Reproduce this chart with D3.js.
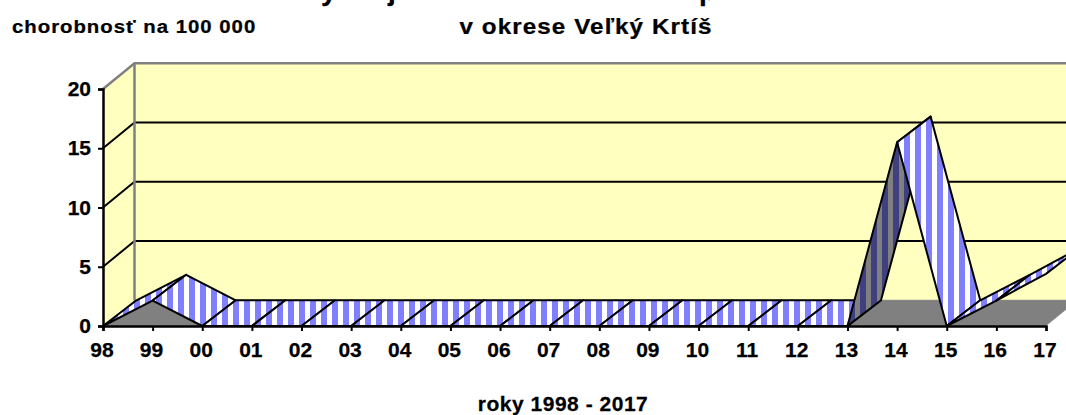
<!DOCTYPE html>
<html><head><meta charset="utf-8">
<style>html,body{margin:0;padding:0;background:#fff;overflow:hidden}svg{display:block}text{font-family:"Liberation Sans",Arial,sans-serif;font-weight:bold;fill:#000;stroke:#000;stroke-width:.25px}</style>
<script src="https://cdnjs.cloudflare.com/ajax/libs/d3/7.8.5/d3.min.js"></script>
</head><body><script>
const categories=['98','99','00','01','02','03','04','05','06','07','08','09','10','11','12','13','14','15','16','17'];
const values=[0,2.15,0,0,0,0,0,0,0,0,0,0,0,0,0,0,15.5,0,2.15,4.4];
const yTicks=[0,5,10,15,20];
const W=1066,H=415;
const svg=d3.select('body').append('svg').attr('width',W).attr('height',H);
const x=d3.scalePoint().domain(categories).range([103,1046]);
const y=d3.scaleLinear().domain([0,20]).range([326,89]);
const wall={dx:31.5,dy:-25.7}, rib={dx:33.5,dy:-25.7};
const defs=svg.append('defs');
function stripes(id,a,b){
  const p=defs.append('pattern').attr('id',id).attr('patternUnits','userSpaceOnUse').attr('x',2).attr('y',0).attr('width',11).attr('height',10);
  p.append('rect').attr('width',11).attr('height',10).attr('fill',b);
  p.append('rect').attr('width',6).attr('height',10).attr('fill',a);
}
stripes('light','#8080ff','#ffffff');
stripes('dark','#404080','#808080');
const pts=a=>a.map(d=>d.join(',')).join(' ');
const x0=x.range()[0],x1=x.range()[1],xEnd=x1+wall.dx,wallC='#ffffc0',gray='#808080';
// side wall, back wall, floor
svg.append('polygon').attr('points',pts([[x0,y(20)],[x0+wall.dx,y(20)+wall.dy],[x0+wall.dx,y(0)+wall.dy],[x0,y(0)]])).attr('fill',wallC);
svg.append('rect').attr('x',x0+wall.dx).attr('y',y(20)+wall.dy).attr('width',xEnd-x0-wall.dx).attr('height',y(0)-y(20)).attr('fill',wallC);
svg.append('polygon').attr('points',pts([[x0,y(0)],[x0+wall.dx,y(0)+wall.dy],[xEnd,y(0)+wall.dy],[x1,y(0)]])).attr('fill',gray);
// gridlines
yTicks.filter(t=>t>0&&t<20).forEach(t=>{
  svg.append('polyline').attr('points',pts([[x0,y(t)],[x0+wall.dx,y(t)+wall.dy],[xEnd,y(t)+wall.dy]])).attr('fill','none').attr('stroke','#000').attr('stroke-width',2);
});
svg.append('polyline').attr('points',pts([[x0,y(20)],[x0+wall.dx,y(20)+wall.dy],[xEnd,y(20)+wall.dy]])).attr('fill','none').attr('stroke',gray).attr('stroke-width',2.5);
svg.append('line').attr('x1',x0+wall.dx).attr('x2',x0+wall.dx).attr('y1',y(20)+wall.dy).attr('y2',y(0)+wall.dy).attr('stroke',gray).attr('stroke-width',2.5);
svg.append('line').attr('x1',x0+wall.dx).attr('x2',xEnd).attr('y1',y(0)+wall.dy).attr('y2',y(0)+wall.dy).attr('stroke',gray).attr('stroke-width',1);
// ribbon
const faces=d3.pairs(categories.map((c,i)=>({c,v:values[i]})));
svg.append('g').selectAll('polygon').data(faces).join('polygon')
 .attr('points',([a,b])=>pts([[x(a.c),y(a.v)],[x(b.c),y(b.v)],[x(b.c)+rib.dx,y(b.v)+rib.dy],[x(a.c)+rib.dx,y(a.v)+rib.dy]]))
 .attr('fill',([a,b])=>{
   const slope=(y(b.v)-y(a.v))/(x(b.c)-x(a.c));
   return slope<rib.dy/rib.dx?'url(#dark)':'url(#light)';
 })
 .attr('stroke','#000').attr('stroke-width',2).attr('stroke-linejoin','round');
// axes
const gy=svg.append('g').attr('transform',`translate(${x0},0)`).call(d3.axisLeft(y).tickValues(yTicks).tickSize(5).tickPadding(7));
const gx=svg.append('g').attr('transform',`translate(0,${y(0)})`).call(d3.axisBottom(x).tickSize(5).tickPadding(11));
[gy,gx].forEach(g=>{
  g.selectAll('path.domain').attr('stroke','#000').attr('stroke-width',2.5);
  g.selectAll('line').attr('stroke','#000').attr('stroke-width',2);
  g.selectAll('text').style('font-size','21px').style('font-family','"Liberation Sans",Arial,sans-serif').style('font-weight','bold').attr('fill','#000');
});
gx.selectAll('text').attr('dx',-1.6);
// titles
const T=(s,xx,yy,fs,anchor,ls,sx)=>svg.append('text').text(s).attr('transform',`translate(${xx},${yy}) scale(${sx||1},1)`).attr('font-size',fs).attr('text-anchor',anchor||'start').attr('letter-spacing',ls||0);
T('chorobnosť na 100 000',12,32.5,18.5,'start',0.9,1.1);
T('v okrese Veľký Krtíš',586,33.5,22,'middle',1,1.1);
T('roky 1998 - 2017',563,410.5,20,'middle',0.5,1.05);
// first title line lies above the frame: only descender tips show
T('y',321,0,28);T('j',388,0,28);T('p',699,0,28);
</script></body></html>
